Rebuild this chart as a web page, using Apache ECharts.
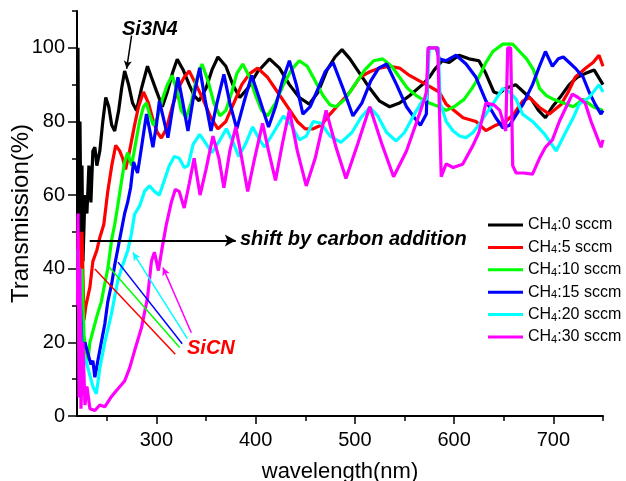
<!DOCTYPE html>
<html><head><meta charset="utf-8">
<script src="https://cdn.jsdelivr.net/npm/echarts@6/dist/echarts.min.js"></script>
<style>html,body{margin:0;padding:0;background:#fff}#c{width:626px;height:481px}</style>
</head><body><div id="c"></div>
<script>
const FONT = 'Liberation Sans, Arial, sans-serif';
const seriesNames = ['CH4:0 sccm','CH4:5 sccm','CH4:10 sccm','CH4:15 sccm','CH4:20 sccm','CH4:30 sccm'];
const seriesColors = ['#000000','#ff0000','#00ff00','#0000ff','#00ffff','#ff00ff'];
const xTickLabels = [300,400,500,600,700];
const xMinorTicks = [250,350,450,550,650,750];
const yTickLabels = [0,20,40,60,80,100];
const yMinorTicks = [10,30,50,70,90,110];

const ch0 = [[221,100],[222,45],[223,80],[224,50],[225,68],[226,42],[228,60],[230,55],[232,68],[234,58],[236,72],[238,73],[240,68],[243,72],[246,80],[249,86.5],[252,84],[255,79],[258,77.4],[262,83],[265,89],[268,93.7],[272,90],[276,85],[280,83],[285,89],[291,95],[295,92],[300,88.3],[306,84],[311,88],[316,93],[321,96.9],[327,94],[333,90],[338,87],[343,85.6],[350,89],[356,94],[362,97.5],[370,95],[377,90],[384,86.5],[392,89],[402,93.5],[414,97],[424,94.5],[434,90],[444,86.5],[454,84.7],[463,88],[472,94],[480,97.5],[487,99.5],[495,97],[505,93],[515,89],[525,85.5],[535,84],[545,85],[555,87],[568,90],[575,92],[580,94],[588,96.5],[595,96],[605,98],[615,97],[625,96.5],[632,93],[640,88],[645,87.5],[652,89],[662,90],[670,88],[678,86],[685,83],[692,81],[699,84],[708,87],[716,90],[724,92],[732,93],[741,94],[750,90]];
const ch5 = [[221,50],[223,35],[225,50],[227,26],[229,30],[233,35],[236,42],[240,45],[243,48.5],[247,52],[251,61],[255,68],[259,73.5],[263,72],[266,70],[269,67],[273,72],[278,79],[282,84],[287,88],[292,85],[297,80],[301,77],[305,75.5],[310,78],[316,84],[322,89],[328,92],[333,93.7],[340,90],[347,86],[355,81],[362,78],[370,80],[378,85],[386,90],[394,93],[402,94.5],[412,92],[422,88],[432,84],[442,80],[450,78],[458,78],[466,79],[475,82],[485,85],[495,88],[505,92],[515,93.5],[525,94.5],[535,95],[545,94.5],[555,92.5],[565,91],[572,90],[585,88],[592,84.7],[600,83],[609,81],[622,80],[632,77.5],[642,79],[652,80],[660,82],[669,85.5],[676,86.5],[686,83.8],[696,82],[708,84.7],[715,88],[722,92],[733,94.6],[740,96],[746,98],[750,95]];
const ch10 = [[221,45],[223,30],[225,40],[227,22],[229,18],[231,15],[233,20],[235,22],[238,25],[241,28],[244.5,31],[248,36],[251,40],[255,48],[258,52],[261,57],[265,64],[268,69],[271,71.5],[275,68],[279,74],[283,80],[287,84],[290,85],[293,82],[297,79],[301,81],[306,86],[311,90],[316,92.5],[321,88],[325,83],[330,81],[335,85],[340,91],[346,95.6],[352,91],[358,85],[364,81.5],[370,83],[376,88],[381,93],[387,95.6],[394,92],[400,87],[406,83],[412,81.5],[420,85],[428,90],[436,94],[444,96.5],[452,95],[460,91],[468,87],[475,84.5],[481,84],[490,86],[500,90],[510,94],[519,96.5],[528,97],[537,95],[545,92],[553,89],[562,87],[568,86],[575,85],[585,84],[592,83],[600,84],[610,86],[618,89],[625,92],[632,96],[639,99],[649,101],[659,101],[666,99],[673,97],[680,94],[686,89],[693,87],[700,86],[710,85],[720,84],[730,86],[740,84],[750,83]];
const ch15 = [[221,40],[222,22],[223,35],[225,18],[228,20],[231,17],[234,14],[236,15],[238,10.5],[241,15],[244.5,20],[248,25],[251,31],[255,36],[258,41],[263,48],[268,55],[271,58],[274,62],[277,69],[281,66],[285,73],[290,82],[293,78],[296.5,73],[300,79],[303,85.6],[307,81],[311.6,75.6],[316,83],[321.7,92],[326,86],[331.8,77.4],[337,86],[343.6,94.6],[349,86],[355,77.4],[361,85],[368,92.8],[374,85],[381,78],[388,85],[396,92.5],[404,86],[413,78.5],[420,84],[427,91],[434,96.5],[441,90],[447.6,82],[455,84],[463,89],[470,93.5],[478,96],[488,89],[498,81.5],[507,85],[516,91],[524,94.5],[532,95.6],[542,90],[552,84],[560,81],[566,79],[572,82],[574,100],[578,100],[582,100],[585,97],[592,96.5],[602,98],[612,95.6],[622,92],[632,85.6],[642,81],[649,78.3],[656,79],[663,82],[670,85],[679,90],[686,95],[692,99],[699,95],[705,97],[710,97.5],[716,96],[722,94.5],[730,92],[736,88],[742,84.7],[748,82],[750,83]];
const ch20 = [[221,45],[222,30],[223,40],[224,20],[226,17],[229,15],[232,12],[236,8],[239.5,6],[243,13],[248,20],[254.6,27.6],[261,36.7],[266,41],[271,44.8],[274.8,49.4],[278,54.8],[283,57],[288,61],[293,62.5],[298,61],[303,60],[308,64],[313,68],[318,70.5],[323,70],[328,67.5],[332,68],[337,73.8],[343.6,76.5],[350,74],[356,71.5],[363,74.5],[370.5,78],[377,74.5],[383,70.5],[390,74],[397,78.5],[404,75],[409,73],[418,77],[428,81.5],[436,79],[444,75],[451,76],[458,80],[466,79.5],[475,76],[486,74.3],[497,77],[506,81],[515,83.8],[523,81.5],[532,77],[541.6,74.7],[550,77],[560,82],[568,85.6],[572,86],[575,100],[580,100],[584,100],[586,85],[592,80],[599,77.4],[606,76],[612,75.6],[619,77],[625.5,79.3],[632,82],[639,84.7],[649,89],[656,88],[662.5,86],[669,82],[679,80],[691,76.6],[702.8,72],[713,77.4],[720,81],[726,84.7],[736,86.5],[746,90],[750,88]];
const ch30 = [[220.5,30],[221,55],[222,5],[223,40],[224,2],[226,20],[228,3],[230,8],[233,2],[238,1.5],[243,3],[248,2.5],[254,5],[260,7],[268,9.5],[273,13],[278,17.7],[285,24],[291,32],[295,42],[298,44.5],[302,39.5],[306,46],[310,52],[315,58],[319,61.5],[323,61],[328,56.5],[333,63],[338,70],[344,60],[350,67],[357,76],[363,70],[368,62],[374,72],[380,78.5],[386,70],[392,61],[399,70],[407,79.5],[413,72],[420,64],[427,74],[434,83],[442,72],[451,62.5],[460,70],[471,83],[481,73],[491,64.5],[503,74],[515,84],[527,74],[539,65],[552,72],[565,82],[570,86],[572,88],[574,100],[579,100],[583.5,100],[587,65],[592,68.5],[599,67.5],[608.6,68.4],[619,73.5],[625,77],[632,85],[640,84.5],[646,83],[652,77.4],[654,100],[657,100],[659,68],[662.5,66],[670,66],[679,65.7],[686,70],[692,73],[699,75],[706,80],[713,84],[719,87.4],[725,86.5],[732,85],[738,80],[743,76.5],[748,73],[750,75]];
const allData = [ch0, ch5, ch10, ch15, ch20, ch30];

// annotation line end points (data coordinates)
const si3n4Arrow = [[275,103.3],[270,94.3]];
const shiftArrow = [[232.8,47.7],[380,47.7]];
const sicnLines = [
  [[238,39.9],[319,16.8]],
  [[251.2,40.8],[323.4,18.6]],
  [[261.3,41.8],[326,19.6]],
  [[276.4,44.4],[331.2,21]],
  [[306.6,40.3],[335.2,22.6]]
];

function ml(pair, startSym, endSym, color, width, size) {
  return [{coord: pair[0], symbol: startSym, symbolSize: size, lineStyle:{color:color, width:width, type:'solid'}},
          {coord: pair[1], symbol: endSym, symbolSize: size}];
}

const series = seriesNames.map((n, i) => {
  const marks = [];
  if (i === 0) {
    marks.push(ml(si3n4Arrow, 'none', 'arrow', '#000', 1.5, [6, 8]));
    marks.push(ml(shiftArrow, 'none', 'arrow', '#000', 2, [9, 11]));
  } else {
    const idx = i - 1;
    const top = (i >= 4) ? 'arrow' : 'none';
    marks.push(ml([sicnLines[idx][1], sicnLines[idx][0]], 'none', top, seriesColors[i], 1.5, [6, 8]));
  }
  return {
    name: n, type: 'line', data: allData[i], showSymbol: false, symbol: 'none',
    lineStyle: {color: seriesColors[i], width: 3.2}, itemStyle: {color: seriesColors[i]},
    animation: false, silent: true, clip: true,
    markLine: {silent: true, animation: false, label: {show: false}, data: marks}
  };
});

const chart = echarts.init(document.getElementById('c'), null, {renderer: 'canvas'});
chart.setOption({
  backgroundColor: '#fff',
  animation: false,
  grid: {left: 77, right: 23, top: 11, bottom: 65, containLabel: false, outerBoundsMode: 'none'},
  xAxis: [
    {type: 'value', min: 220, max: 750, position: 'bottom',
     name: 'wavelength(nm)', nameLocation: 'middle', nameGap: 45,
     nameTextStyle: {fontFamily: FONT, fontSize: 22, color: '#000'},
     axisLine: {show: true, onZero: false, lineStyle: {color: '#000', width: 2}},
     axisTick: {show: true, customValues: xTickLabels, length: 8, lineStyle: {color: '#000', width: 1.5}},
     axisLabel: {customValues: xTickLabels, fontFamily: FONT, fontSize: 20, color: '#000', margin: 14},
     splitLine: {show: false}},
    {type: 'value', min: 220, max: 750, position: 'bottom',
     axisLine: {show: false}, axisLabel: {show: false}, splitLine: {show: false},
     axisTick: {show: true, customValues: xMinorTicks, length: 5, lineStyle: {color: '#000', width: 1.5}}}
  ],
  yAxis: [
    {type: 'value', min: 0, max: 110, position: 'left',
     name: 'Transmission(%)', nameLocation: 'middle', nameGap: 44, nameMoveOverlap: false,
     nameTextStyle: {fontFamily: FONT, fontSize: 24, color: '#000'},
     axisLine: {show: true, onZero: false, lineStyle: {color: '#000', width: 2}},
     axisTick: {show: true, customValues: yTickLabels, length: 9, lineStyle: {color: '#000', width: 1.5}},
     axisLabel: {customValues: yTickLabels, fontFamily: FONT, fontSize: 20, color: '#000', margin: 12},
     splitLine: {show: false}},
    {type: 'value', min: 0, max: 110, position: 'left',
     axisLine: {show: false}, axisLabel: {show: false}, splitLine: {show: false},
     axisTick: {show: true, customValues: yMinorTicks, length: 5, lineStyle: {color: '#000', width: 1.5}}}
  ],
  legend: {
    data: seriesNames, orient: 'vertical', left: 488, top: 217, padding: 0,
    itemWidth: 35, itemHeight: 3, itemGap: 5.9, icon: 'rect',
    formatter: n => '{a|CH}{s|4}{a|' + n.slice(3) + '}',
    textStyle: {fontFamily: FONT, fontSize: 16, color: '#000',
      rich: {a: {fontFamily: FONT, fontSize: 16, lineHeight: 17, color: '#000'},
             s: {fontFamily: FONT, fontSize: 11, lineHeight: 8, verticalAlign: 'bottom', color: '#000'}}}
  },
  graphic: [
    {type: 'text', x: 122, y: 29, silent: true, style: {text: 'Si3N4', font: 'italic bold 20px ' + FONT, fill: '#000', verticalAlign: 'middle'}},
    {type: 'text', x: 240, y: 239, silent: true, style: {text: 'shift by carbon addition', font: 'italic bold 20px ' + FONT, fill: '#000', verticalAlign: 'middle'}},
    {type: 'text', x: 187, y: 348, silent: true, style: {text: 'SiCN', font: 'italic bold 20px ' + FONT, fill: '#ff0000', verticalAlign: 'middle'}}
  ],
  series: series
});
</script></body></html>
